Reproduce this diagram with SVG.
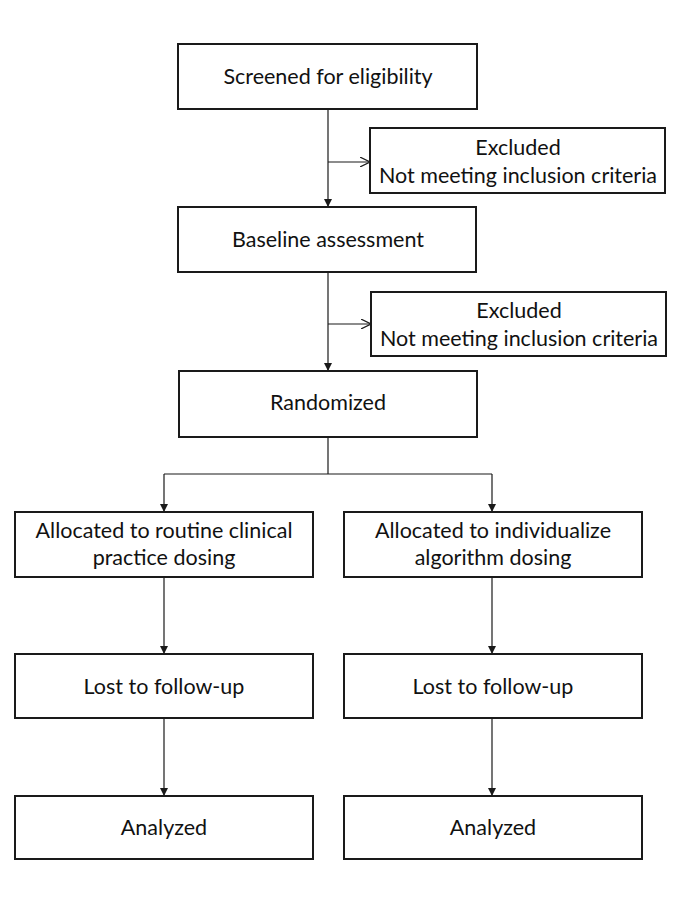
<svg xmlns="http://www.w3.org/2000/svg" width="685" height="911" viewBox="0 0 685 911">
<style>
.box{fill:#fff;stroke:#1a1a1a;stroke-width:2}
.t{font-family:Lato,"Liberation Sans",sans-serif;font-size:21.5px;fill:#111;text-anchor:middle}
.c{fill:none;stroke:#1a1a1a;stroke-width:1.2}
</style>
<defs>
<marker id="fa" viewBox="0 0 10 10" refX="10" refY="5" markerWidth="8" markerHeight="8" markerUnits="userSpaceOnUse" orient="auto"><path d="M0,0 L10,5 L0,10 z" fill="#1a1a1a"/></marker>
<marker id="oa" viewBox="0 0 10 10" refX="10" refY="5" markerWidth="10" markerHeight="10" markerUnits="userSpaceOnUse" orient="auto"><path d="M0,0 L10,5 L0,10" fill="none" stroke="#1a1a1a" stroke-width="1.2"/></marker>
</defs>
<rect width="685" height="911" fill="#fff"/>
<g id="connectors">
<line class="c" x1="328" y1="109" x2="328" y2="207" marker-end="url(#fa)"/>
<line class="c" x1="328" y1="162" x2="370" y2="162" marker-end="url(#oa)"/>
<line class="c" x1="328" y1="272" x2="328" y2="371" marker-end="url(#fa)"/>
<line class="c" x1="328" y1="324" x2="371" y2="324" marker-end="url(#oa)"/>
<polyline class="c" points="328,437 328,474"/>
<polyline class="c" points="164,474 492,474"/>
<line class="c" x1="164" y1="474" x2="164" y2="512" marker-end="url(#fa)"/>
<line class="c" x1="492" y1="474" x2="492" y2="512" marker-end="url(#fa)"/>
<line class="c" x1="164" y1="577" x2="164" y2="654" marker-end="url(#fa)"/>
<line class="c" x1="492" y1="577" x2="492" y2="654" marker-end="url(#fa)"/>
<line class="c" x1="164" y1="718" x2="164" y2="796" marker-end="url(#fa)"/>
<line class="c" x1="492" y1="718" x2="492" y2="796" marker-end="url(#fa)"/>
</g>
<g id="screened"><rect class="box" x="178" y="44" width="299" height="65"/><text class="t" x="328" y="84">Screened for eligibility</text></g>
<g id="excluded1"><rect class="box" x="370" y="128" width="295" height="65"/><text class="t" x="518" y="155">Excluded</text><text class="t" x="518" y="183">Not meeting inclusion criteria</text></g>
<g id="baseline"><rect class="box" x="178" y="207" width="298" height="65"/><text class="t" x="328" y="247">Baseline assessment</text></g>
<g id="excluded2"><rect class="box" x="371" y="292" width="295" height="64"/><text class="t" x="519" y="318">Excluded</text><text class="t" x="519" y="346">Not meeting inclusion criteria</text></g>
<g id="randomized"><rect class="box" x="179" y="371" width="298" height="66"/><text class="t" x="328" y="410">Randomized</text></g>
<g id="alloc-routine"><rect class="box" x="15" y="512" width="298" height="65"/><text class="t" x="164" y="538">Allocated to routine clinical</text><text class="t" x="164" y="565">practice dosing</text></g>
<g id="alloc-algorithm"><rect class="box" x="344" y="512" width="298" height="65"/><text class="t" x="493" y="538">Allocated to individualize</text><text class="t" x="493" y="565">algorithm dosing</text></g>
<g id="lost-left"><rect class="box" x="15" y="654" width="298" height="64"/><text class="t" x="164" y="694">Lost to follow-up</text></g>
<g id="lost-right"><rect class="box" x="344" y="654" width="298" height="64"/><text class="t" x="493" y="694">Lost to follow-up</text></g>
<g id="analyzed-left"><rect class="box" x="15" y="796" width="298" height="63"/><text class="t" x="164" y="835">Analyzed</text></g>
<g id="analyzed-right"><rect class="box" x="344" y="796" width="298" height="63"/><text class="t" x="493" y="835">Analyzed</text></g>
</svg>
